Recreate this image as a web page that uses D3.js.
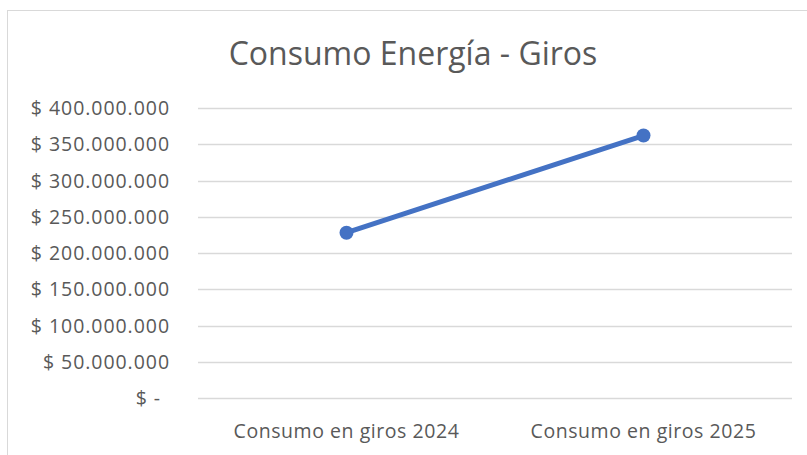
<!DOCTYPE html>
<html>
<head>
<meta charset="utf-8">
<script src="https://cdn.jsdelivr.net/npm/d3@7"></script>
<style>
  body { margin: 0; background: #fff; }
  text { font-family: "Open Sans", Lato, sans-serif; fill: #595959; }
</style>
</head>
<body>
<div id="chart"></div>
<script>
const categories = ['Consumo en giros 2024', 'Consumo en giros 2025']
const values = [228000000, 362000000]
const yTicks = [0, 50000000, 100000000, 150000000, 200000000, 250000000, 300000000, 350000000, 400000000]
const title = 'Consumo Energía - Giros'

const W = 807, H = 455
const margin = {top: 108, right: 15, bottom: 57, left: 198}

const svg = d3.select('#chart')
  .append('svg')
  .attr('width', W)
  .attr('height', H)

// chart area border
svg.append('rect')
  .attr('x', 7.5)
  .attr('y', 10.5)
  .attr('width', W + 20)
  .attr('height', H + 20)
  .style('fill', 'none')
  .style('stroke', '#d9d9d9')

svg.append('text')
  .attr('x', 413)
  .attr('y', 65)
  .attr('text-anchor', 'middle')
  .style('font-size', '32px')
  .text(title)

const x = d3.scaleBand().domain(categories).range([margin.left, W - margin.right])
const y = d3.scaleLinear().domain([0, 400000000]).range([H - margin.bottom, margin.top])

const fmt = v => v === 0 ? '$ -' : '$ ' + d3.format(',')(v).replace(/,/g, '.')

// gridlines
svg.append('g')
  .selectAll('line')
  .data(yTicks)
  .join('line')
  .attr('x1', margin.left)
  .attr('x2', W - margin.right)
  .attr('y1', d => Math.round(y(d)) + 0.5)
  .attr('y2', d => Math.round(y(d)) + 0.5)
  .style('stroke', '#d9d9d9')
  .style('stroke-width', 1.3)

// y labels
svg.append('g')
  .selectAll('text')
  .data(yTicks)
  .join('text')
  .attr('x', d => d === 0 ? 161 : 170)
  .attr('y', d => y(d))
  .attr('dy', '0.36em')
  .attr('text-anchor', 'end')
  .style('font-size', '19.5px')
  .style('letter-spacing', '0.95px')
  .text(fmt)

// x labels
svg.append('g')
  .selectAll('text')
  .data(categories)
  .join('text')
  .attr('x', d => x(d) + x.bandwidth() / 2)
  .attr('y', 438)
  .attr('text-anchor', 'middle')
  .style('font-size', '19.5px')
  .style('letter-spacing', '0.55px')
  .text(d => d)

const pts = categories.map((c, i) => ({c, v: values[i]}))

const line = d3.line()
  .x(d => x(d.c) + x.bandwidth() / 2)
  .y(d => y(d.v))

svg.append('path')
  .datum(pts)
  .attr('d', line)
  .style('fill', 'none')
  .style('stroke', '#4472c4')
  .style('stroke-width', 5)
  .style('stroke-linecap', 'round')

svg.append('g')
  .selectAll('circle')
  .data(pts)
  .join('circle')
  .attr('cx', d => x(d.c) + x.bandwidth() / 2)
  .attr('cy', d => y(d.v))
  .attr('r', 7)
  .style('fill', '#4472c4')
</script>
</body>
</html>
